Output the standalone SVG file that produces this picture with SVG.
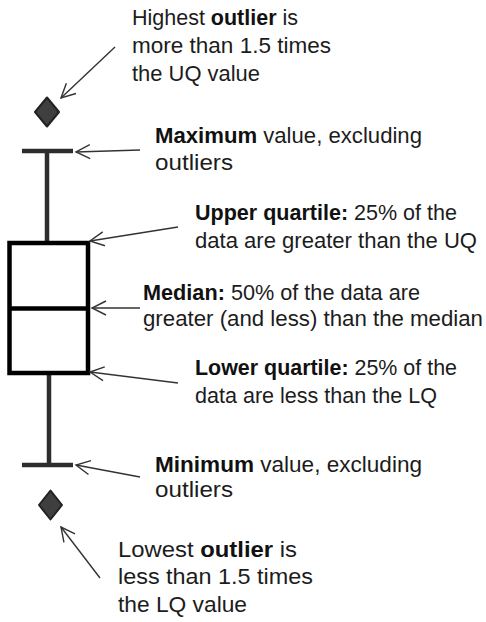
<svg xmlns="http://www.w3.org/2000/svg" width="486" height="622" viewBox="0 0 486 622">
<defs>
<style>
text{font-family:"Liberation Sans",Arial,sans-serif;font-size:22px;fill:#1c1c1c}
.b{font-weight:bold;fill:#111}
.conn{stroke:#333;stroke-width:1.4;fill:none;marker-end:url(#ah)}
.whisk{stroke:#2d2d2d;stroke-width:4.5;fill:none}
.box{stroke:#000;stroke-width:4.5;fill:#fff}
.dia{fill:#3f3f3f;stroke:#222;stroke-width:2;stroke-linejoin:round}
</style>
<marker id="ah" viewBox="-16 -9 18 18" refX="0" refY="0" markerWidth="18" markerHeight="18" markerUnits="userSpaceOnUse" orient="auto">
<path d="M-14,-7 L0,0 L-14,7" fill="none" stroke="#333" stroke-width="1.4"/>
</marker>
</defs>
<g id="plot">
<g id="upper-whisker"><line class="whisk" x1="22" y1="151" x2="73" y2="151"/><line class="whisk" x1="47" y1="151" x2="47" y2="243"/></g>
<g id="lower-whisker"><line class="whisk" x1="49" y1="373" x2="49" y2="465"/><line class="whisk" x1="22" y1="465" x2="73" y2="465"/></g>
<g id="box"><rect class="box" x="9.5" y="243" width="78.5" height="130"/><line class="box" x1="9.5" y1="308.5" x2="88" y2="308.5"/></g>
<g id="outlier-high"><path class="dia" d="M47,97.5 L59,112 L47,126.5 L35,112 Z"/></g>
<g id="outlier-low"><path class="dia" d="M50.5,490.5 L62,505 L50.5,519.5 L39,505 Z"/></g>
</g>
<g id="connectors">
<line class="conn" x1="115" y1="47" x2="61" y2="98"/>
<line class="conn" x1="140" y1="150" x2="76" y2="152"/>
<line class="conn" x1="178" y1="227" x2="90" y2="241"/>
<line class="conn" x1="140" y1="308" x2="92" y2="308"/>
<line class="conn" x1="178" y1="383" x2="90" y2="372"/>
<line class="conn" x1="140" y1="477" x2="76" y2="465"/>
<line class="conn" x1="100" y1="578" x2="61" y2="527"/>
</g>
<g id="label-high">
<text x="132" y="25" textLength="166" lengthAdjust="spacingAndGlyphs">Highest <tspan class="b">outlier</tspan> is</text>
<text x="132" y="53" textLength="199" lengthAdjust="spacingAndGlyphs">more than 1.5 times</text>
<text x="132" y="81" textLength="128" lengthAdjust="spacingAndGlyphs">the UQ value</text>
</g>
<g id="label-max">
<text x="155" y="143" textLength="267" lengthAdjust="spacingAndGlyphs"><tspan class="b">Maximum</tspan> value, excluding</text>
<text x="155" y="170" textLength="78" lengthAdjust="spacingAndGlyphs">outliers</text>
</g>
<g id="label-uq">
<text x="195" y="220" textLength="262" lengthAdjust="spacingAndGlyphs"><tspan class="b">Upper quartile:</tspan> 25% of the</text>
<text x="195" y="248" textLength="282" lengthAdjust="spacingAndGlyphs">data are greater than the UQ</text>
</g>
<g id="label-median">
<text x="143" y="300" textLength="277" lengthAdjust="spacingAndGlyphs"><tspan class="b">Median:</tspan> 50% of the data are</text>
<text x="143" y="326" textLength="340" lengthAdjust="spacingAndGlyphs">greater (and less) than the median</text>
</g>
<g id="label-lq">
<text x="195" y="375" textLength="262" lengthAdjust="spacingAndGlyphs"><tspan class="b">Lower quartile:</tspan> 25% of the</text>
<text x="195" y="403" textLength="242" lengthAdjust="spacingAndGlyphs">data are less than the LQ</text>
</g>
<g id="label-min">
<text x="155" y="472" textLength="267" lengthAdjust="spacingAndGlyphs"><tspan class="b">Minimum</tspan> value, excluding</text>
<text x="155" y="497" textLength="78" lengthAdjust="spacingAndGlyphs">outliers</text>
</g>
<g id="label-low">
<text x="118" y="557" textLength="179" lengthAdjust="spacingAndGlyphs">Lowest <tspan class="b">outlier</tspan> is</text>
<text x="118" y="584" textLength="195" lengthAdjust="spacingAndGlyphs">less than 1.5 times</text>
<text x="118" y="612" textLength="129" lengthAdjust="spacingAndGlyphs">the LQ value</text>
</g>
</svg>
